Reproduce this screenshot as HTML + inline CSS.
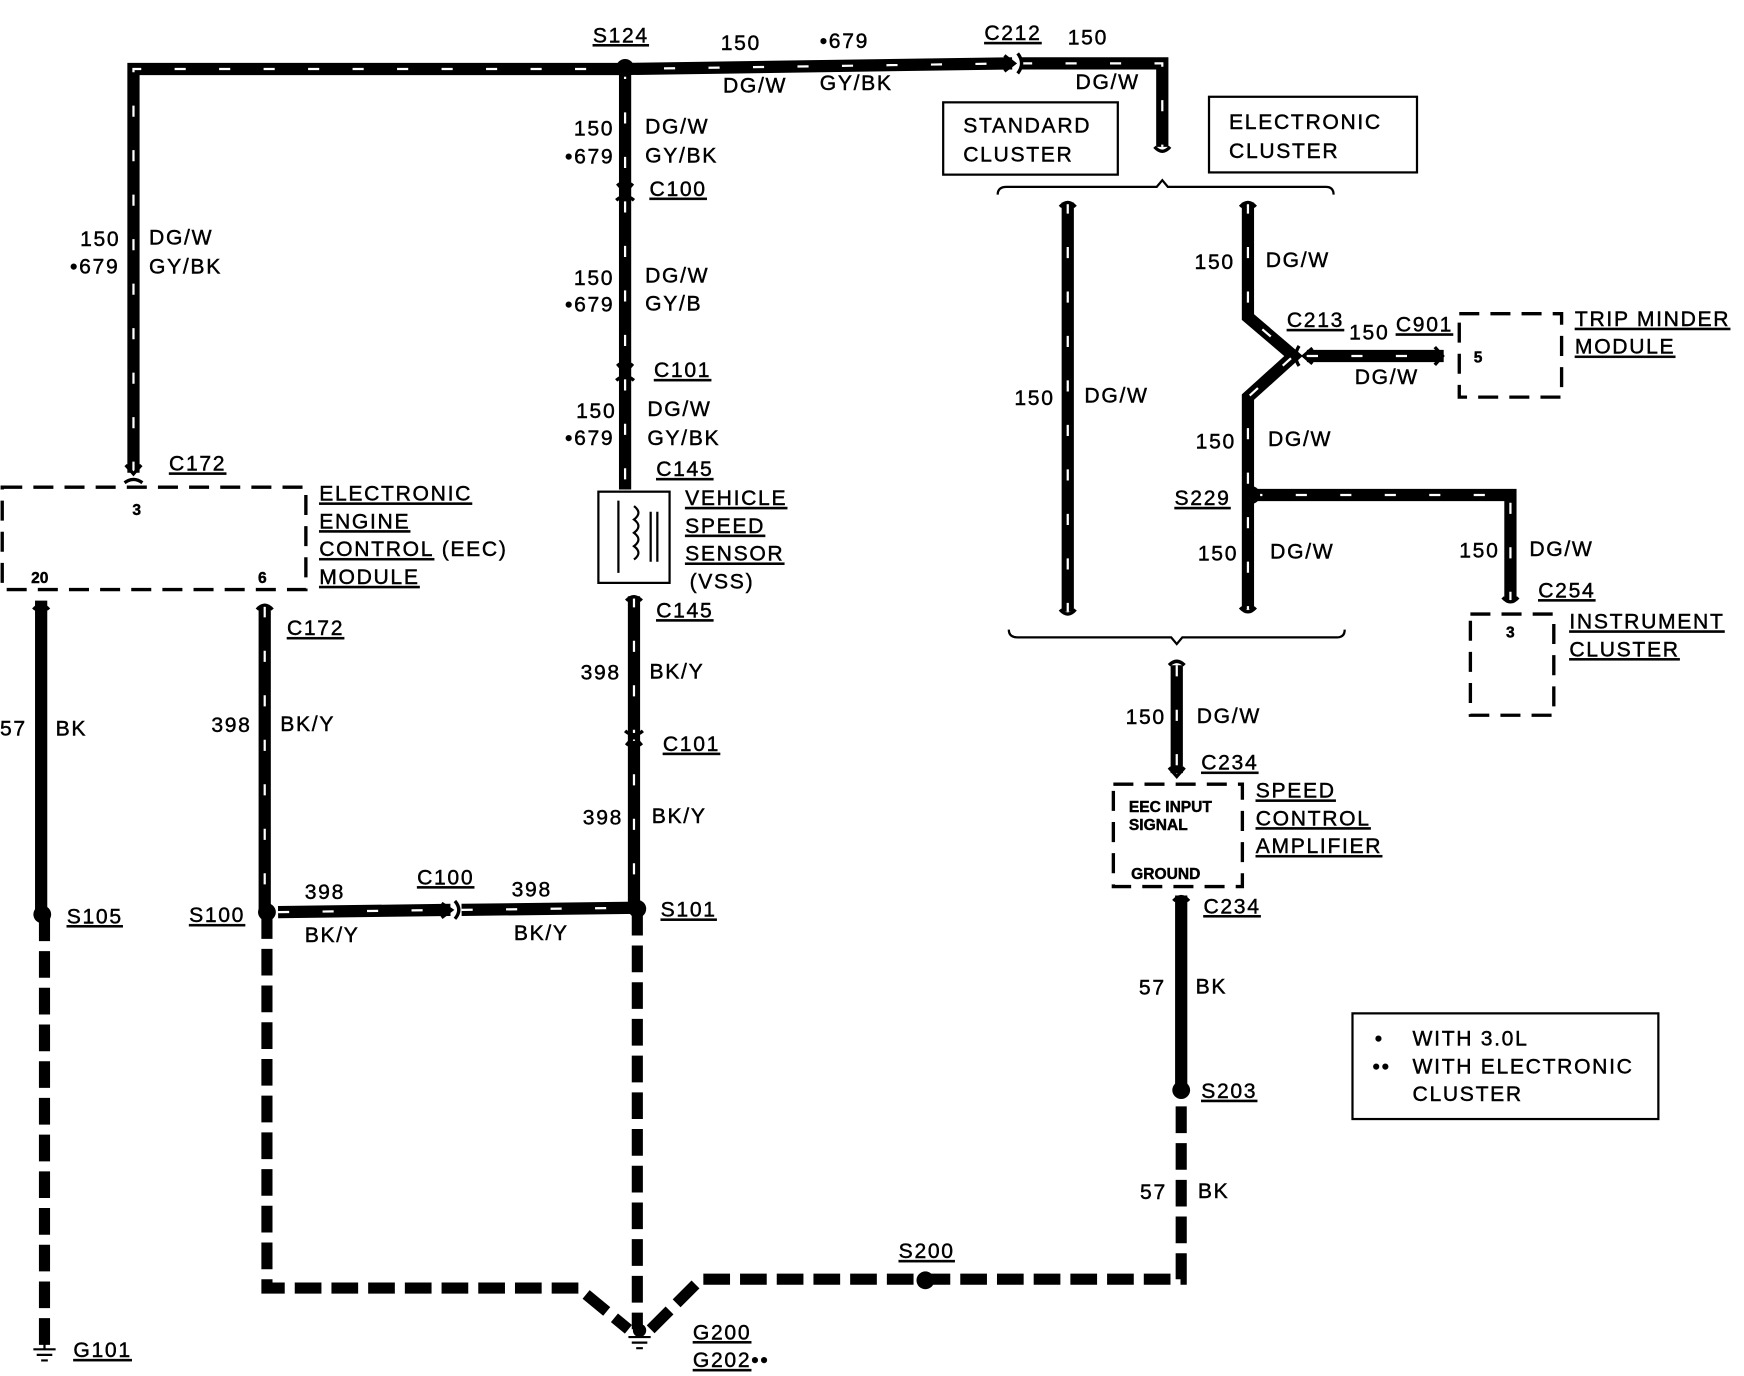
<!DOCTYPE html>
<html><head><meta charset="utf-8"><style>
html,body{margin:0;padding:0;background:#fff;}
svg{display:block;}
text{font-family:"Liberation Sans",sans-serif;font-size:19px;fill:#000;letter-spacing:1.5px;stroke:#000;stroke-width:0.4px;}
.u{text-decoration:underline;}
.sm{font-size:14px;font-weight:bold;letter-spacing:0;}
.w{fill:none;stroke:#000;stroke-width:11;stroke-linejoin:miter;}
.s{fill:none;stroke:#fff;stroke-width:2;stroke-dasharray:10 30;}
.g{fill:none;stroke:#000;stroke-width:10;stroke-dasharray:24 9;}
.b{fill:none;stroke:#000;stroke-width:3;stroke-dasharray:18 10;}
.bx{fill:none;stroke:#000;stroke-width:2;}
</style></head><body>
<svg width="1744" height="1376" viewBox="0 0 1568 1237" preserveAspectRatio="none" xmlns="http://www.w3.org/2000/svg">
<g id="wires">
<path class="w" d="M120 425 V62 H562 L910 57"/>
<path class="s" d="M120 425 V62 H562 L910 57"/>
<path class="w" d="M918 57 H1045 V132"/><path class="s" d="M918 57 H1045 V132"/>
<path class="w" d="M562 61 V440"/><path class="s" d="M562 61 V440"/>
<path class="w" d="M570 536 V817"/><path class="s" d="M570 536 V817"/>
<path class="w" d="M238 545 V820"/><path class="s" d="M238 545 V820"/>
<path class="w" d="M250 820 L405 818 M415 818 L572 816"/><path class="s" d="M250 820 L405 818 M415 818 L572 816"/>
<path class="w" d="M960 182 V550"/><path class="s" d="M960 182 V550"/>
<path class="w" d="M1122 182 V285 L1163 320 L1122 357 V548"/><path class="s" d="M1122 182 V285 L1163 320 L1122 357 V548"/>
<path class="w" d="M1175 320 H1298"/><path class="s" d="M1175 320 H1298"/>
<path class="w" d="M1125 445 H1358 V540"/><path class="s" d="M1125 445 H1358 V540"/>
<path class="w" d="M1058 598 V695"/><path class="s" d="M1058 598 V695"/>
<path class="w" d="M37 540 V822"/>
<path class="w" d="M1062 805 V980"/>
</g>
<path class="g" d="M40 822 V1210"/>
<path class="g" d="M240 820 V1158 H520 L565 1195"/>
<path class="g" d="M573 817 V1195"/>
<path class="g" d="M585 1195 L630 1150 H1062 V980"/>
<g fill="#000">
<circle cx="562" cy="61" r="8"/><circle cx="38" cy="822" r="8"/><circle cx="240" cy="820" r="8"/>
<circle cx="573" cy="817" r="8"/><circle cx="1125" cy="445" r="8"/><circle cx="1062" cy="980" r="8"/>
<circle cx="832" cy="1151" r="8"/><circle cx="575" cy="1196" r="6"/>
</g>
<g fill="none" stroke="#000" stroke-width="3">
<path d="M903 50 L912 57 L903 64 M915 48 Q922 57 915 66"/>
<path d="M397 812 L406 818 L397 825 M409 810 Q416 818 409 826"/>
<path d="M555 165 L562 173 L569 165 M554 180 Q562 173 570 180"/>
<path d="M555 327 L562 335 L569 327 M554 342 Q562 335 570 342"/>
<path d="M563 670 L570 662 L577 670 M562 657 Q570 664 578 657"/>
<path d="M113 418 L120 426 L127 418 M112 434 Q120 428 128 434"/>
<path d="M30 548 Q37 540 44 548 M231 548 Q238 540 245 548"/>
<path d="M563 540 Q570 533 577 540"/>
<path d="M953 186 Q960 178 967 186 M1115 186 Q1122 178 1129 186 M1051 598 Q1058 591 1065 598"/>
<path d="M953 548 Q960 556 967 548 M1115 546 Q1122 554 1129 546"/>
<path d="M1038 132 Q1045 140 1052 132 M1351 537 Q1358 545 1365 537 M1051 690 L1058 698 L1065 690"/>
<path d="M1055 810 Q1062 802 1069 810"/>
<path d="M1180 313 L1172 320 L1180 327 M1168 311 Q1162 320 1168 329 M1290 312 L1297 320 L1290 328"/>
</g>
<g stroke="#000" stroke-width="2"><path d="M30 1213 H50 M33 1218 H47 M37 1223 H43 M40 1208 V1213"/><path d="M565 1202 H585 M568 1207 H582 M572 1212 H578"/></g>
<rect class="b" x="2" y="438" width="273" height="92"/>
<rect class="bx" x="538" y="442" width="64" height="82" stroke-width="3"/>
<path d="M556 450 V515 M585 460 V505 M591 460 V505" stroke="#000" stroke-width="2" fill="none"/>
<path d="M570 455 q8 6 0 12 q8 6 0 12 q8 6 0 12 q8 6 0 12" stroke="#000" stroke-width="2" fill="none"/>
<rect class="bx" x="848" y="92" width="157" height="65"/>
<rect class="bx" x="1087" y="87" width="187" height="68"/>
<path d="M897 175 Q897 168 905 168 H1040 L1045 162 L1050 168 H1192 Q1199 168 1199 175" class="bx" stroke-width="3"/>
<path d="M907 566 Q907 573 915 573 H1053 L1058 579 L1063 573 H1202 Q1209 573 1209 566" class="bx" stroke-width="3"/>
<rect class="b" x="1312" y="282" width="92" height="75"/>
<rect class="b" x="1322" y="552" width="75" height="91"/>
<rect class="b" x="1001" y="705" width="116" height="92"/>
<rect class="bx" x="1216" y="911" width="275" height="95"/>
<text x="533" y="38" class="u">S124</text>
<text x="648" y="45">150</text><text x="737" y="43">•679</text>
<text x="650" y="83">DG/W</text><text x="737" y="81">GY/BK</text>
<text x="885" y="36" class="u">C212</text><text x="960" y="40">150</text>
<text x="967" y="80">DG/W</text>
<text x="866" y="119">STANDARD</text><text x="866" y="145">CLUSTER</text>
<text x="1105" y="116">ELECTRONIC</text><text x="1105" y="142">CLUSTER</text>
<text x="516" y="122">150</text><text x="580" y="120">DG/W</text>
<text x="508" y="147">•679</text><text x="580" y="146">GY/BK</text>
<text x="584" y="176" class="u">C100</text>
<text x="516" y="256">150</text><text x="580" y="254">DG/W</text>
<text x="508" y="280">•679</text><text x="580" y="279">GY/B</text>
<text x="588" y="339" class="u">C101</text>
<text x="518" y="376">150</text><text x="582" y="374">DG/W</text>
<text x="508" y="400">•679</text><text x="582" y="400">GY/BK</text>
<text x="590" y="428" class="u">C145</text>
<text x="616" y="454" class="u">VEHICLE</text><text x="616" y="479" class="u">SPEED</text>
<text x="616" y="504" class="u">SENSOR</text><text x="620" y="529">(VSS)</text>
<text x="590" y="555" class="u">C145</text>
<text x="522" y="611">398</text><text x="584" y="610">BK/Y</text>
<text x="596" y="675" class="u">C101</text>
<text x="524" y="741">398</text><text x="586" y="740">BK/Y</text>
<text x="594" y="824" class="u">S101</text>
<text x="274" y="808">398</text><text x="460" y="806">398</text>
<text x="375" y="795" class="u">C100</text>
<text x="274" y="847">BK/Y</text><text x="462" y="845">BK/Y</text>
<text x="170" y="829" class="u">S100</text>
<text x="60" y="830" class="u">S105</text>
<text x="72" y="221">150</text><text x="134" y="220">DG/W</text>
<text x="63" y="246">•679</text><text x="134" y="246">GY/BK</text>
<text x="152" y="423" class="u">C172</text>
<text x="119" y="463" class="sm">3</text><text x="28" y="524" class="sm">20</text><text x="232" y="524" class="sm">6</text>
<text x="287" y="450" class="u">ELECTRONIC</text><text x="287" y="475" class="u">ENGINE</text>
<text x="287" y="500"><tspan class="u">CONTROL</tspan> (EEC)</text><text x="287" y="525" class="u">MODULE</text>
<text x="258" y="571" class="u">C172</text>
<text x="0" y="661">57</text><text x="50" y="661">BK</text>
<text x="190" y="658">398</text><text x="252" y="657">BK/Y</text>
<text x="66" y="1220" class="u">G101</text>
<text x="623" y="1204" class="u">G200</text><text x="623" y="1229"><tspan class="u">G202</tspan>••</text>
<text x="808" y="1131" class="u">S200</text>
<text x="1074" y="242">150</text><text x="1138" y="240">DG/W</text>
<text x="1157" y="294" class="u">C213</text><text x="1213" y="305">150</text><text x="1255" y="298" class="u">C901</text>
<text x="1218" y="345">DG/W</text>
<text x="1325" y="326" class="sm">5</text>
<text x="1416" y="293" class="u">TRIP MINDER</text><text x="1416" y="318" class="u">MODULE</text>
<text x="912" y="364">150</text><text x="975" y="362">DG/W</text>
<text x="1075" y="403">150</text><text x="1140" y="401">DG/W</text>
<text x="1056" y="454" class="u">S229</text>
<text x="1077" y="504">150</text><text x="1142" y="502">DG/W</text>
<text x="1312" y="501">150</text><text x="1375" y="500">DG/W</text>
<text x="1383" y="537" class="u">C254</text><text x="1354" y="573" class="sm">3</text>
<text x="1411" y="565" class="u">INSTRUMENT</text><text x="1411" y="590" class="u">CLUSTER</text>
<text x="1012" y="651">150</text><text x="1076" y="650">DG/W</text>
<text x="1080" y="692" class="u">C234</text>
<text x="1015" y="730" class="sm">EEC INPUT</text><text x="1015" y="746" class="sm">SIGNAL</text><text x="1017" y="790" class="sm">GROUND</text>
<text x="1129" y="717" class="u">SPEED</text><text x="1129" y="742" class="u">CONTROL</text><text x="1129" y="767" class="u">AMPLIFIER</text>
<text x="1082" y="821" class="u">C234</text>
<text x="1024" y="894">57</text><text x="1075" y="893">BK</text>
<text x="1080" y="987" class="u">S203</text>
<text x="1025" y="1078">57</text><text x="1077" y="1077">BK</text>
<text x="1236" y="940">•</text><text x="1270" y="940">WITH 3.0L</text>
<text x="1234" y="965">••</text><text x="1270" y="965">WITH ELECTRONIC</text>
<text x="1270" y="990">CLUSTER</text>
</svg>
</body></html>
